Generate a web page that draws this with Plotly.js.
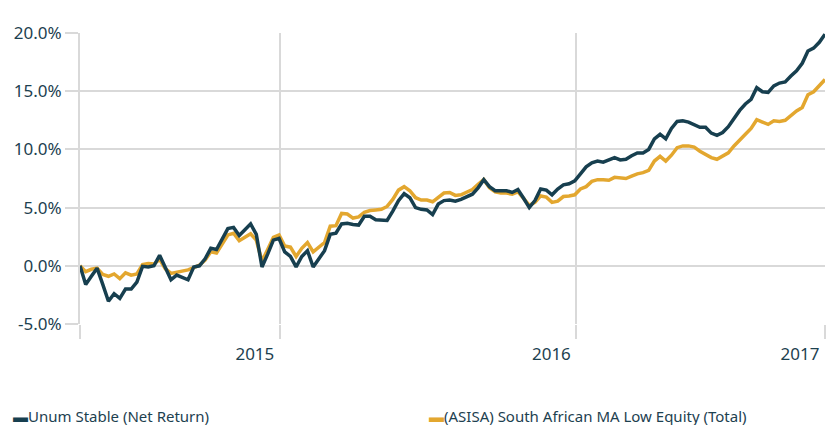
<!DOCTYPE html>
<html>
<head>
<meta charset="utf-8">
<script src="https://cdn.plot.ly/plotly-3.0.1.min.js"></script>
<style>html,body{margin:0;padding:0;background:#fff;}#chart{width:829px;height:425px;}</style>
</head>
<body>
<div id="chart"></div>
<script>
// Weekly observations, first week starting 2014-04-30
const startDate = '2014-04-30';
const seriesNames = ['Unum Stable (Net Return)', '(ASISA) South African MA Low Equity (Total)'];
const unumStable = [
  0.0, -1.6, -0.9, -0.2, -1.6, -3.05, -2.4, -2.8, -2.0, -2.0,
  -1.4, -0.05, -0.1, 0.0, 0.9, -0.1, -1.2, -0.8, -1.0, -1.2,
  -0.1, 0.0, 0.6, 1.5, 1.4, 2.3, 3.2, 3.3, 2.6, 3.1,
  3.6, 2.7, -0.1, 1.0, 2.2, 2.35, 1.2, 0.8, -0.1, 0.8,
  1.3, -0.1, 0.6, 1.3, 2.7, 2.8, 3.6, 3.65, 3.55, 3.5,
  4.25, 4.25, 3.95, 3.9, 3.9, 4.7, 5.6, 6.2, 5.85, 5.0,
  4.85, 4.8, 4.4, 5.3, 5.6, 5.65, 5.55, 5.7, 5.95, 6.15,
  6.7, 7.4, 6.8, 6.45, 6.45, 6.45, 6.3, 6.55, 5.8, 5.0,
  5.6, 6.6, 6.5, 6.1, 6.6, 6.95, 7.05, 7.3, 7.9, 8.5,
  8.85, 9.0, 8.9, 9.1, 9.3, 9.1, 9.15, 9.45, 9.7, 9.7,
  10.0, 10.9, 11.3, 10.9, 11.8, 12.4, 12.45, 12.35, 12.15, 11.9,
  11.9, 11.4, 11.2, 11.45, 11.95, 12.7, 13.35, 13.9, 14.3, 15.3,
  14.95, 14.9, 15.45, 15.7, 15.8, 16.3, 16.75, 17.4, 18.45, 18.7,
  19.2, 19.9
];
const asisaLowEquity = [
  0.0, -0.5, -0.3, -0.2, -0.75, -0.9, -0.7, -1.1, -0.6, -0.8,
  -0.7, 0.1, 0.2, 0.15, 0.55, -0.25, -0.65, -0.55, -0.4, -0.35,
  -0.15, 0.05, 0.5, 1.2, 1.1, 1.9, 2.65, 2.8, 2.15, 2.45,
  2.75, 2.2, 0.4, 1.4, 2.45, 2.65, 1.7, 1.6, 0.8, 1.5,
  2.0, 1.2, 1.6, 2.0, 3.4, 3.45, 4.5, 4.45, 4.1, 4.2,
  4.6, 4.75, 4.8, 4.85, 5.1, 5.7, 6.5, 6.8, 6.45, 5.85,
  5.65, 5.65, 5.5, 5.9, 6.25, 6.3, 6.05, 6.1, 6.3, 6.55,
  7.0, 7.4, 6.7, 6.35, 6.25, 6.25, 6.15, 6.35, 5.8, 5.2,
  5.45, 6.0, 5.9, 5.45, 5.55, 5.95, 6.0, 6.1, 6.6, 6.8,
  7.25, 7.4, 7.4, 7.35, 7.6, 7.55, 7.5, 7.7, 7.9, 8.0,
  8.2, 9.0, 9.4, 9.0, 9.5, 10.15, 10.3, 10.3, 10.2, 9.85,
  9.6, 9.3, 9.15, 9.4, 9.7, 10.3, 10.85, 11.3, 11.8, 12.55,
  12.35, 12.15, 12.45, 12.4, 12.5, 12.95, 13.3, 13.6, 14.7, 14.95,
  15.45, 16.0
];
const yTickVals = [-5, 0, 5, 10, 15, 20];
const yTickText = ['-5.0%', '0.0%', '5.0%', '10.0%', '15.0%', '20.0%'];
const xTickText = ['', '2015', '2016', '2017'];

function weekDates(start, n) {
  const out = [];
  const d0 = new Date(start + 'T00:00:00Z');
  for (let i = 0; i < n; i++) {
    const d = new Date(d0.getTime() + i * 7 * 86400000);
    out.push(d.toISOString().slice(0, 10));
  }
  return out;
}
const dates = weekDates(startDate, unumStable.length);
const xTickVals = [dates[0], '2015-01-01', '2016-01-01', dates[dates.length - 1]];

const darkCol = '#173f4f';
const goldCol = '#e3a72f';
const gridCol = '#d9d9d9';
const textCol = '#1d4150';

const traces = [
  {x: dates, y: asisaLowEquity, type: 'scatter', mode: 'lines', name: seriesNames[1],
   line: {color: goldCol, width: 3.5}, showlegend: false},
  {x: dates, y: unumStable, type: 'scatter', mode: 'lines', name: seriesNames[0],
   line: {color: darkCol, width: 3.5}, showlegend: false}
];

const layout = {
  width: 829, height: 425,
  margin: {l: 80, r: 4, t: 33, b: 101},
  paper_bgcolor: '#ffffff', plot_bgcolor: '#ffffff',
  font: {family: 'Noto Sans, sans-serif', color: textCol},
  xaxis: {
    type: 'date', range: [dates[0], dates[dates.length - 1]],
    tickmode: 'array', tickvals: xTickVals, ticktext: xTickText,
    showgrid: true, gridcolor: gridCol, gridwidth: 2,
    ticks: 'outside', ticklen: 14, tickwidth: 2, tickcolor: gridCol,
    ticklabelshift: -25, ticklabelstandoff: 1,
    tickfont: {size: 17, color: textCol},
    zeroline: false, showline: false
  },
  yaxis: {
    range: [-5, 20], tickmode: 'array', tickvals: yTickVals, ticktext: yTickText,
    showgrid: true, gridcolor: gridCol, gridwidth: 2,
    ticks: 'outside', ticklen: 13, tickwidth: 2, tickcolor: gridCol,
    tickfont: {size: 17, color: textCol},
    zeroline: false, showline: true, linecolor: gridCol, linewidth: 2
  },
  annotations: [
    {xref: 'paper', yref: 'paper', x: -0.093, y: -0.316, xanchor: 'left', yanchor: 'middle',
     showarrow: false, font: {size: 15, color: textCol},
     text: '<span style="color:' + darkCol + '">▬</span>' + seriesNames[0]},
    {xref: 'paper', yref: 'paper', x: 0.466, y: -0.316, xanchor: 'left', yanchor: 'middle',
     showarrow: false, font: {size: 15, color: textCol},
     text: '<span style="color:' + goldCol + '">▬</span>' + seriesNames[1]}
  ]
};

Plotly.newPlot('chart', traces, layout, {staticPlot: true, displayModeBar: false});
</script>
</body>
</html>
